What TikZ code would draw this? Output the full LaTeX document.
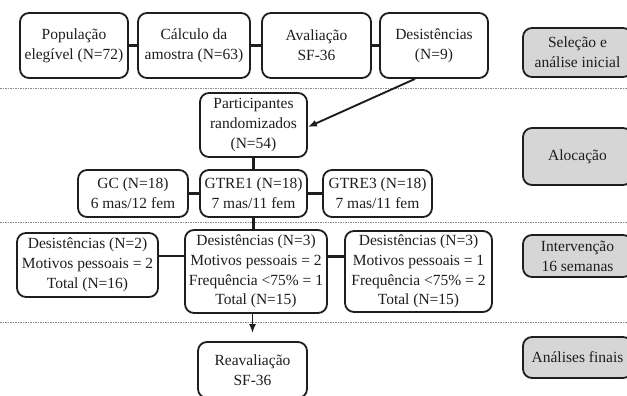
\documentclass[tikz,border=0pt]{standalone}
\usepackage{fontspec}
\setmainfont{Liberation Serif}
\usetikzlibrary{arrows.meta}
\definecolor{boxgray}{HTML}{D6D6D6}
\definecolor{ink}{HTML}{1E1E1E}
\definecolor{sepgray}{HTML}{8A8A8A}
\begin{document}
\begin{tikzpicture}[x=1pt,y=-1pt,
  every node/.style={font=\fontsize{15.5}{19.8}\selectfont, text=ink},
  flowbox/.style={draw=ink, line width=1.8pt, rounded corners=9pt, align=center, inner sep=0pt, fill=white},
  phasebox/.style={draw=ink, line width=1.8pt, rounded corners=9pt, align=center, inner sep=0pt, fill=boxgray, minimum width=109pt},
  link/.style={draw=ink, line width=2.4pt},
  arrowlink/.style={draw=ink, line width=1.9pt, -{Latex[length=9pt,width=7pt]}},
  sepline/.style={draw=sepgray, line width=0.8pt, dash pattern=on 1.5pt off 1pt}
]
\clip (0,0) rectangle (627,396);
\fill[white] (0,0) rectangle (627,396);

% separators
\draw[sepline] (0,88) -- (627,88);
\draw[sepline] (0,222) -- (627,222);
\draw[sepline] (0,322) -- (627,322);

% top row
\node[flowbox, minimum width=108pt, minimum height=65pt] (pop) at (74,45.5) {População\\elegível (N=72)};
\node[flowbox, minimum width=112pt, minimum height=65pt] (calc) at (194,45.5) {Cálculo da\\amostra (N=63)};
\node[flowbox, minimum width=109pt, minimum height=65pt] (aval) at (316.5,45.5) {Avaliação\\SF-36};
\node[flowbox, minimum width=108pt, minimum height=65pt] (des9) at (434,45.5) {Desistências\\(N=9)};

% allocation
\node[flowbox, minimum width=107pt, minimum height=64pt] (part) at (253.5,125) {Participantes\\randomizados\\(N=54)};
\node[flowbox, minimum width=110pt, minimum height=47pt] (gc) at (133,193.5) {GC (N=18)\\6 mas/12 fem};
\node[flowbox, minimum width=107pt, minimum height=47pt] (gtre1) at (253.5,193.5) {GTRE1 (N=18)\\7 mas/11 fem};
\node[flowbox, minimum width=109pt, minimum height=47pt] (gtre3) at (377.5,193.5) {GTRE3 (N=18)\\7 mas/11 fem};

% intervention
\node[flowbox, minimum width=141pt, minimum height=64pt] (d2) at (87.5,265) {Desistências (N=2)\\Motivos pessoais = 2\\Total (N=16)};
\node[flowbox, minimum width=142pt, minimum height=83pt] (d3a) at (256,271.5) {Desistências (N=3)\\Motivos pessoais = 2\\Frequência <75\% = 1\\Total (N=15)};
\node[flowbox, minimum width=147pt, minimum height=81pt] (d3b) at (418.5,271.5) {Desistências (N=3)\\Motivos pessoais = 1\\Frequência <75\% = 2\\Total (N=15)};

% final
\node[flowbox, minimum width=109pt, minimum height=56pt] (reav) at (252.5,370) {Reavaliação\\SF-36};

% phase labels
\node[phasebox, minimum height=49pt] (sel) at (577.5,52.5) {Seleção e\\análise inicial};
\node[phasebox, minimum height=57pt] (aloc) at (577.5,156.5) {Alocação};
\node[phasebox, minimum height=42pt] (interv) at (577.5,256) {Intervenção\\16 semanas};
\node[phasebox, minimum height=41pt] (anal) at (577.5,357.5) {Análises finais};

% connectors
\draw[link] (pop) -- (calc);
\draw[link] (calc) -- (aval);
\draw[link] (aval) -- (des9);
\draw[arrowlink] ([xshift=-19pt]des9.south) -- ([yshift=-2pt]part.east);
\draw[link] (part) -- (gtre1);
\draw[link] (gc) -- (gtre1);
\draw[link] (gtre1) -- (gtre3);
\draw[link] (gtre1.south) -- (gtre1.south |- d3a.north);
\draw[link] ([yshift=9pt]d2.east) -- ([yshift=9pt]d2.east -| d3a.west);
\draw[link] ([yshift=15pt]d3a.east) -- ([yshift=15pt]d3a.east -| d3b.west);
\draw[arrowlink, shorten >=8pt] (d3a.south -| reav.north) -- (reav.north);
\end{tikzpicture}
\end{document}
